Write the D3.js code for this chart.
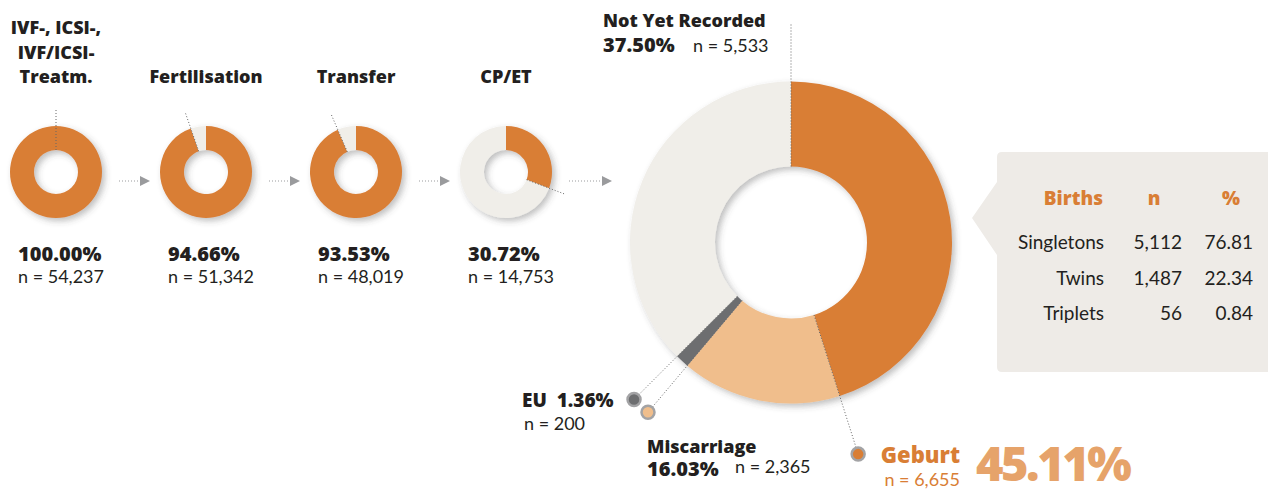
<!DOCTYPE html>
<html>
<head>
<meta charset="utf-8">
<script src="https://cdn.jsdelivr.net/npm/d3@7"></script>
<style>
  body { margin: 0; background: #fff; }
  svg { display: block; font-family: Lato, "Open Sans", sans-serif; }
  text { white-space: pre; }
  .b { font-family: "Open Sans", Lato, sans-serif; font-weight: 800; }
</style>
</head>
<body>
<svg id="chart"></svg>
<script>
// treatment stages (small donuts)
const stages = ["IVF-, ICSI-,\nIVF/ICSI-\nTreatm.", "Fertilisation", "Transfer", "CP/ET"];
const stagePct = [100.00, 94.66, 93.53, 30.72];
const stageN = [54237, 51342, 48019, 14753];

// outcome of the CP/ET cycles (big donut)
const outcomes = ["Geburt", "Miscarriage", "EU", "Not Yet Recorded"];
const outcomePct = [45.11, 16.03, 1.36, 37.50];
const outcomeN = [6655, 2365, 200, 5533];

// births table
const births = ["Singletons", "Twins", "Triplets"];
const birthN = [5112, 1487, 56];
const birthPct = [76.81, 22.34, 0.84];

const width = 1268, height = 490;
const ORANGE = "#d97e35", LIGHT = "#f0eee9", PEACH = "#f0be8c", GREY = "#6d6e70";
const outcomeColor = d3.scaleOrdinal().domain(outcomes).range([ORANGE, PEACH, GREY, LIGHT]);

const fmtN = d3.format(",");
const fmtPct = d3.format(".2f");

const svg = d3.select("#chart").attr("width", width).attr("height", height);

const defs = svg.append("defs");
const shadow = defs.append("filter").attr("id", "shadow")
  .attr("x", "-20%").attr("y", "-20%").attr("width", "150%").attr("height", "150%");
shadow.append("feDropShadow")
  .attr("dx", 3).attr("dy", 3).attr("stdDeviation", 3)
  .attr("flood-color", "#4a4a4a").attr("flood-opacity", 0.35);

const pie = d3.pie().sort(null).value(d => d);
const dark = "#231f20";

function label(xp, yp, txt, opts) {
  const t = svg.append("text").attr("x", xp).attr("y", yp)
    .attr("font-size", opts.size || 18)
    .attr("fill", opts.color || dark)
    .attr("text-anchor", opts.anchor || "start")
    .text(txt);
  if (opts.bold) t.attr("class", "b");
  if (opts.ls) t.attr("letter-spacing", opts.ls);
  return t;
}

// ---------- small donuts ----------
const x = d3.scalePoint().domain(stages).range([56, 506]);
const cy = 172, rOut = 46, rIn = 22;
const smallArc = d3.arc().innerRadius(rIn).outerRadius(rOut);

stages.forEach((s, i) => {
  const g = svg.append("g").attr("transform", `translate(${x(s)},${cy})`);
  const arcs = pie([stagePct[i], 100 - stagePct[i]]);

  g.append("g").attr("filter", "url(#shadow)")
    .selectAll("path")
    .data(arcs)
    .enter().append("path")
    .attr("d", smallArc)
    .attr("fill", (d, j) => j === 0 ? ORANGE : LIGHT);

  // leader line at end of orange part
  const a = arcs[0].endAngle;
  g.append("line")
    .attr("x1", rIn * Math.sin(a)).attr("y1", -rIn * Math.cos(a))
    .attr("x2", 62 * Math.sin(a)).attr("y2", -62 * Math.cos(a))
    .attr("stroke", "#666").attr("stroke-width", 1).attr("stroke-dasharray", "1,2");

  // title
  const lines = s.split("\n");
  g.append("text")
    .attr("class", "b")
    .attr("text-anchor", "middle")
    .attr("font-size", 18).attr("fill", dark)
    .selectAll("tspan")
    .data(lines)
    .enter().append("tspan")
    .attr("x", 0)
    .attr("y", (d, j) => 83 - cy - (lines.length - 1 - j) * 24.5)
    .text(d => d);

  label(x(s) - 38, 261, fmtPct(stagePct[i]) + "%", { bold: true, size: 20 });
  label(x(s) - 38, 283, "n = " + fmtN(stageN[i]), {});
});

// arrows between stages
stages.forEach((s, i) => {
  const x0 = x(s) + rOut + 17;
  const x1 = i < stages.length - 1 ? x(stages[i + 1]) - rOut - 10 : 612;
  svg.append("line")
    .attr("x1", x0).attr("x2", x1 - 10).attr("y1", 181).attr("y2", 181)
    .attr("stroke", "#9a9b9d").attr("stroke-dasharray", "1,2");
  svg.append("path")
    .attr("d", `M${x1 - 10},176L${x1},181L${x1 - 10},186Z`)
    .attr("fill", "#9a9b9d");
});

// ---------- big donut ----------
const bx = 791, by = 242.5, bOut = 161, bIn = 76;
const bigArc = d3.arc().innerRadius(bIn).outerRadius(bOut);
const bigData = pie(outcomePct);
const big = svg.append("g").attr("transform", `translate(${bx},${by})`);

big.append("g").attr("filter", "url(#shadow)")
  .selectAll("path")
  .data(bigData)
  .enter().append("path")
  .attr("d", bigArc)
  .attr("fill", (d, i) => outcomeColor(outcomes[i]));

const polar = (a, r) => [r * Math.sin(a), -r * Math.cos(a)];
bigData.forEach((d, i) => {
  const a = d.endAngle;
  const end = outcomes[i] === "Not Yet Recorded" ? 220 : 222;
  const p0 = polar(a, bIn), p1 = polar(a, end);
  big.append("line")
    .attr("x1", p0[0]).attr("y1", p0[1]).attr("x2", p1[0]).attr("y2", p1[1])
    .attr("stroke", "#666").attr("stroke-width", 1).attr("stroke-dasharray", "1,2");
});
bigData.forEach((d, i) => {
  if (outcomes[i] === "Not Yet Recorded") return;
  const p = polar(d.endAngle, 222);
  big.append("circle")
    .attr("cx", p[0]).attr("cy", p[1]).attr("r", 6.5)
    .attr("fill", outcomeColor(outcomes[i]))
    .attr("stroke", "#a3a3a5").attr("stroke-width", 2.5);
});

// outcome labels
const iG = 0, iM = 1, iE = 2, iN = 3;
label(603, 27, outcomes[iN], { bold: true, size: 18 });
label(603, 52, fmtPct(outcomePct[iN]) + "%", { bold: true, size: 20 });
label(693, 52, "n = " + fmtN(outcomeN[iN]), {});

label(522, 407, outcomes[iE] + "  " + fmtPct(outcomePct[iE]) + "%", { bold: true, size: 19 });
label(524, 430, "n = " + fmtN(outcomeN[iE]), {});

label(647, 453, outcomes[iM], { bold: true, size: 18 });
label(647, 476, fmtPct(outcomePct[iM]) + "%", { bold: true, size: 20 });
label(735, 473, "n = " + fmtN(outcomeN[iM]), {});

label(960, 463, outcomes[iG], { bold: true, size: 22, color: ORANGE, anchor: "end" });
label(960, 486, "n = " + fmtN(outcomeN[iG]), { color: ORANGE, anchor: "end" });
label(976, 481, fmtPct(outcomePct[iG]) + "%", { bold: true, size: 47, color: "#e6a36a", ls: -2.5 });

// ---------- births table ----------
svg.append("path")
  .attr("d", "M1002,152 H1275 V372 H1002 Q997,372 997,367 V255 L972,218 L997,182 V157 Q997,152 1002,152 Z")
  .attr("fill", "#eeebe7");

const colX = { label: 1104, n: 1182, pct: 1253 };
label(1103, 205, "Births", { bold: true, size: 19, color: ORANGE, anchor: "end" });
label(1154, 205, "n", { bold: true, size: 19, color: ORANGE, anchor: "middle" });
label(1231, 205, "%", { bold: true, size: 19, color: ORANGE, anchor: "middle" });

const rowY = d3.scalePoint().domain(births).range([249, 320]);
births.forEach((b, i) => {
  label(colX.label, rowY(b), b, { anchor: "end", size: 19 });
  label(colX.n, rowY(b), fmtN(birthN[i]), { anchor: "end", size: 19 });
  label(colX.pct, rowY(b), fmtPct(birthPct[i]), { anchor: "end", size: 19 });
});
</script>
</body>
</html>
